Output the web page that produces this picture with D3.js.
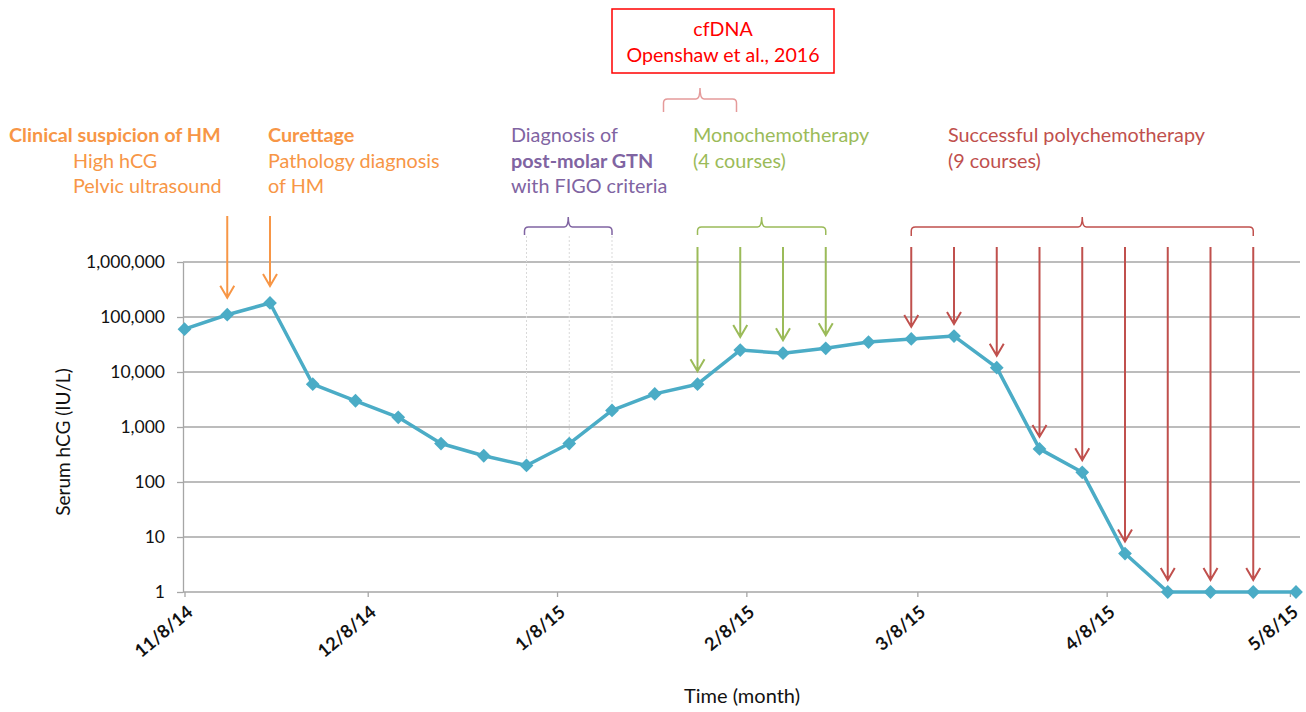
<!DOCTYPE html>
<html>
<head>
<meta charset="utf-8">
<script src="https://cdn.jsdelivr.net/npm/d3@7"></script>
<style>
body { margin: 0; background: #fff; }
svg { display: block; font-family: Lato, "Open Sans", sans-serif; }
</style>
</head>
<body>
<svg id="chart" width="1306" height="712"></svg>
<script>
// Donnees : hCG serique, une mesure par semaine
var dates = ["2014-11-08", "2014-11-15", "2014-11-22", "2014-11-29", "2014-12-06", "2014-12-13",
    "2014-12-20", "2014-12-27", "2015-01-03", "2015-01-10", "2015-01-17", "2015-01-24",
    "2015-01-31", "2015-02-07", "2015-02-14", "2015-02-21", "2015-02-28", "2015-03-07",
    "2015-03-14", "2015-03-21", "2015-03-28", "2015-04-04", "2015-04-11", "2015-04-18",
    "2015-04-25", "2015-05-02", "2015-05-09"];
var hcg = [60000, 110000, 180000, 6000, 3000, 1500, 500, 300, 200, 500, 2000, 4000, 6000,
    25000, 22000, 27000, 35000, 40000, 45000, 12000, 400, 150, 5, 1, 1, 1, 1];
var monthTicks = ["2014-11-08", "2014-12-08", "2015-01-08", "2015-02-08", "2015-03-08", "2015-04-08", "2015-05-08"];
var yTicks = [1, 10, 100, 1000, 10000, 100000, 1000000];

// Evenements (indices des mesures)
var orangeArrows = [1, 2];
var monoArrows = [12, 13, 14, 15];
var polyArrows = [17, 18, 19, 20, 21, 22, 23, 24, 25];
var gtnPoints = [8, 9, 10];
var cfdnaPoint = 12;

// Textes
var noteSuspicion = ["Clinical suspicion of HM", "High hCG", "Pelvic ultrasound"];
var noteCurettage = ["Curettage", "Pathology diagnosis", "of HM"];
var noteGtn = ["Diagnosis of", "post-molar GTN", "with FIGO criteria"];
var noteMono = ["Monochemotherapy", "(4 courses)"];
var notePoly = ["Successful polychemotherapy", "(9 courses)"];
var noteCfdna = ["cfDNA", "Openshaw et al., 2016"];

var couleurs = {
    ligne: "#4BACC6",
    orange: "#F79646",
    violet: "#8064A2",
    vert: "#9BBB59",
    rouge: "#C0504D",
    cfdna: "#FF0000",
    accolade: "#E59A9A",
    grille: "#A6A6A6"
};

var parse = d3.timeParse("%Y-%m-%d");
var svg = d3.select("#chart");

var x = d3.scaleTime().domain([parse(dates[0]), parse(dates[dates.length - 1])]).range([184.5, 1296]);
var y = d3.scaleLog().domain([1, 1000000]).range([592, 262]);

function px (i) { return x(parse(dates[i])); }
function py (i) { return y(hcg[i]); }

// Grille horizontale
svg.append("g").selectAll("line").data(yTicks).enter().append("line")
    .attr("x1", 183).attr("x2", 1300)
    .attr("y1", function (d) { return y(d); })
    .attr("y2", function (d) { return y(d); })
    .attr("stroke", couleurs.grille)
    .attr("stroke-width", 1.3);

// Axe Y
var axeY = svg.append("g").attr("transform", "translate(183,0)")
    .call(d3.axisLeft(y).tickValues(yTicks).tickFormat(d3.format(",")).tickSize(6).tickSizeOuter(0).tickPadding(12));
axeY.select(".domain").attr("stroke", couleurs.grille).attr("stroke-width", 1.3);
axeY.selectAll(".tick line").attr("stroke", couleurs.grille).attr("stroke-width", 1.3);
axeY.selectAll("text").attr("font-size", 17.5).attr("font-family", "Lato").attr("fill", "#111");

// Axe X
var axeX = svg.append("g").attr("transform", "translate(0,592)")
    .call(d3.axisBottom(x).tickValues(monthTicks.map(parse)).tickFormat(d3.timeFormat("%-m/%-d/%y")).tickSize(5).tickSizeOuter(0));
axeX.select(".domain").remove();
axeX.selectAll(".tick line").attr("stroke", couleurs.grille).attr("stroke-width", 1.3);
axeX.selectAll("text")
    .attr("x", 0).attr("y", 0).attr("dy", 0)
    .attr("text-anchor", "end")
    .attr("transform", "translate(9,22) rotate(-40)")
    .attr("font-size", 18).attr("font-weight", "bold").attr("font-family", "Lato").attr("fill", "#111");

// Titres des axes
svg.append("text").attr("x", 742).attr("y", 703).attr("text-anchor", "middle")
    .attr("font-size", 20).attr("fill", "#111").text("Time (month)");
svg.append("text").attr("transform", "translate(70,442) rotate(-90)").attr("text-anchor", "middle")
    .attr("font-size", 19).attr("fill", "#111").text("Serum hCG (IU/L)");

// Pointilles du diagnostic GTN
svg.append("g").selectAll("line").data(gtnPoints).enter().append("line")
    .attr("x1", function (i) { return px(i); }).attr("x2", function (i) { return px(i); })
    .attr("y1", 236).attr("y2", function (i) { return py(i); })
    .attr("stroke", "#D9D9D9").attr("stroke-width", 1).attr("stroke-dasharray", "2,2");

// Courbe
var ligne = d3.line().x(function (d, i) { return px(i); }).y(function (d, i) { return py(i); });
svg.append("path").datum(hcg).attr("d", ligne)
    .attr("fill", "none").attr("stroke", couleurs.ligne).attr("stroke-width", 3.5).attr("stroke-linejoin", "round");
svg.append("g").selectAll("path").data(hcg).enter().append("path")
    .attr("d", d3.symbol(d3.symbolSquare, 95))
    .attr("transform", function (d, i) { return "translate(" + px(i) + "," + py(i) + ") rotate(45)"; })
    .attr("fill", couleurs.ligne);

// Fleches
function fleche (i, y0, ecart, couleur) {
    var xf = px(i), yf = py(i) - ecart;
    svg.append("path")
        .attr("d", "M" + xf + "," + y0 + "V" + yf + "M" + (xf - 7) + "," + (yf - 12) + "L" + xf + "," + yf + "L" + (xf + 7) + "," + (yf - 12))
        .attr("fill", "none").attr("stroke", couleur).attr("stroke-width", 2);
}
orangeArrows.forEach(function (i) { fleche(i, 216, 17, couleurs.orange); });
monoArrows.forEach(function (i) { fleche(i, 247, 13, couleurs.vert); });
polyArrows.forEach(function (i) { fleche(i, 247, 12, couleurs.rouge); });

// Accolades
function accolade (x0, x1, yb, bas, haut, couleur) {
    var xc = (x0 + x1) / 2, r = 4;
    var d = "M" + x0 + "," + (yb + bas) + "V" + (yb + r) + "Q" + x0 + "," + yb + " " + (x0 + r) + "," + yb +
        "H" + (xc - r) + "Q" + xc + "," + yb + " " + xc + "," + (yb - haut) +
        "Q" + xc + "," + yb + " " + (xc + r) + "," + yb +
        "H" + (x1 - r) + "Q" + x1 + "," + yb + " " + x1 + "," + (yb + r) + "V" + (yb + bas);
    svg.append("path").attr("d", d).attr("fill", "none").attr("stroke", couleur).attr("stroke-width", 1.5);
}
accolade(px(gtnPoints[0]) - 2, px(gtnPoints[gtnPoints.length - 1]), 227, 8, 10, couleurs.violet);
accolade(px(monoArrows[0]), px(monoArrows[monoArrows.length - 1]), 227, 8, 10, couleurs.vert);
accolade(px(polyArrows[0]), px(polyArrows[polyArrows.length - 1]), 227, 9, 10, couleurs.rouge);
accolade(px(cfdnaPoint) - 34, px(cfdnaPoint) + 39, 99, 13, 11, couleurs.accolade);

// Annotations
function note (lignes, xs, y0, couleur, grasIndex) {
    var t = svg.append("text").attr("fill", couleur).attr("font-size", 19.8);
    lignes.forEach(function (l, k) {
        t.append("tspan").attr("x", xs[k]).attr("y", y0 + k * 25.5)
            .attr("font-weight", k === grasIndex ? "bold" : "normal").text(l);
    });
}
note(noteSuspicion, [9, 73, 73], 142, couleurs.orange, 0);
note(noteCurettage, [268, 268, 268], 142, couleurs.orange, 0);
note(noteGtn, [511, 511, 511], 142, couleurs.violet, 1);
note(noteMono, [693, 693], 142, couleurs.vert, -1);
note(notePoly, [948, 948], 142, couleurs.rouge, -1);

// Cadre cfDNA
svg.append("rect").attr("x", 612).attr("y", 9).attr("width", 222).attr("height", 64)
    .attr("fill", "#fff").attr("stroke", couleurs.cfdna).attr("stroke-width", 1.5);
svg.append("g").selectAll("text").data(noteCfdna).enter().append("text")
    .attr("x", 723).attr("y", function (d, k) { return 36 + k * 26; })
    .attr("text-anchor", "middle").attr("font-size", 19.6).attr("fill", couleurs.cfdna)
    .text(function (d) { return d; });
</script>
</body>
</html>
